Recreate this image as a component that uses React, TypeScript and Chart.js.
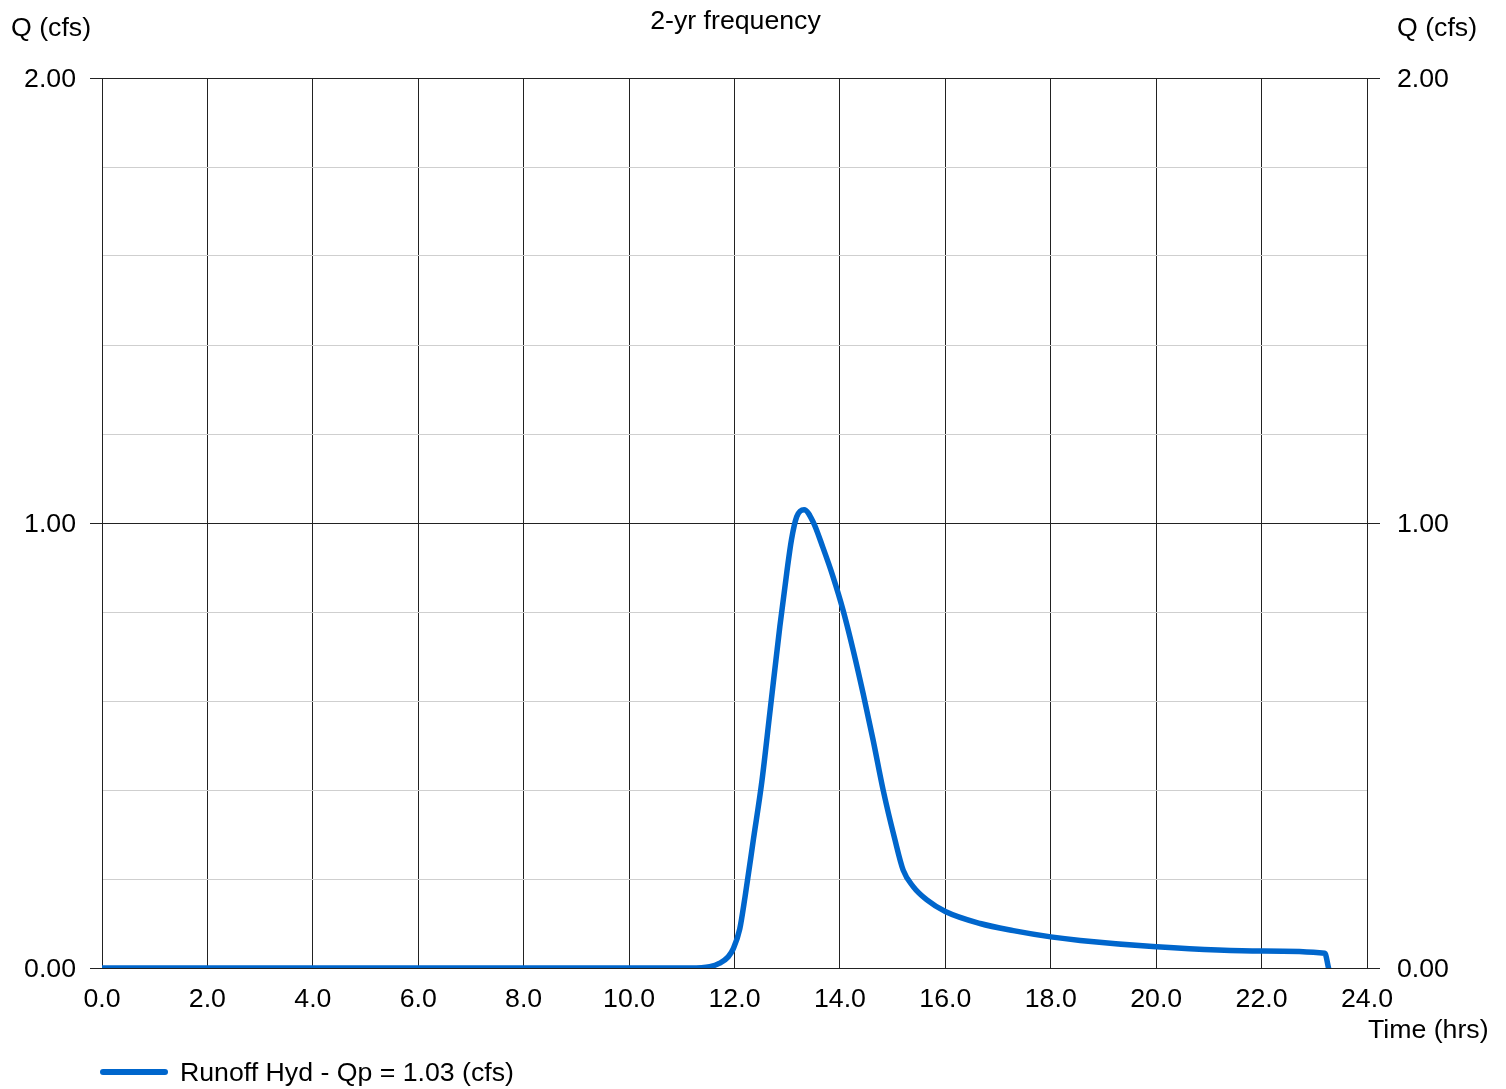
import React, { useEffect, useRef } from "react";
import { Chart, registerables } from "chart.js";

Chart.register(...registerables);

const timeHrs = [
  0, 2, 4, 6, 8, 10, 11.16, 11.53, 11.72, 11.88, 11.98, 12.1, 12.2, 12.36, 12.52, 12.67,
  12.86, 12.99, 13.08, 13.18, 13.32, 13.49, 13.68, 13.87, 14.06, 14.25, 14.44, 14.63, 14.82,
  15.04, 15.2, 15.39, 15.65, 16.0, 16.66, 17.29, 18.0, 18.56, 20.0, 22.0, 23.2, 23.27,
];
const flowCfs = [
  0, 0, 0, 0, 0, 0, 0, 0.003, 0.011, 0.025, 0.044, 0.088, 0.16, 0.29, 0.42, 0.573,
  0.767, 0.887, 0.962, 1.014, 1.03, 1.003, 0.944, 0.879, 0.804, 0.715, 0.617, 0.512, 0.4,
  0.29, 0.22, 0.183, 0.153, 0.127, 0.1, 0.084, 0.07, 0.062, 0.048, 0.038, 0.033, 0,
];
const xTickStep = 2;
const yTickStep = 0.2;
const yMajorLabels = [0, 1, 2];

const chartTitle = "2-yr frequency";
const yAxisTitle = "Q (cfs)";
const xAxisTitle = "Time (hrs)";
const seriesLabel = "Runoff Hyd - Qp = 1.03 (cfs)";

const FONT = "'Liberation Sans', Arial, Helvetica, sans-serif";
const FONT_SIZE = 26.7;
const LINE_COLOR = "#0066cc";
const DARK = "#222222";
const LIGHT = "#cfcfcf";

const isMajor = (v: any) =>
  typeof v === "number" && yMajorLabels.some((m) => Math.abs(m - v) < 1e-9);

export default function App() {
  const ref = useRef<HTMLCanvasElement | null>(null);

  useEffect(() => {
    document.body.style.margin = "0";
    const canvas = ref.current;
    if (!canvas) return;

    const textPlugin = {
      id: "textPlugin",
      afterDraw(chart: any) {
        const c = chart.ctx;
        c.save();
        c.fillStyle = "#000";
        c.font = `${FONT_SIZE}px ${FONT}`;
        c.textBaseline = "middle";
        c.textAlign = "center";
        c.fillText(chartTitle, 735.5, 22);
        c.textAlign = "left";
        c.fillText(yAxisTitle, 11, 29);
        c.fillText(yAxisTitle, 1397, 29);
        c.fillText(xAxisTitle, 1368, 1031);
        // legend
        c.strokeStyle = LINE_COLOR;
        c.lineWidth = 6;
        c.lineCap = "round";
        c.beginPath();
        c.moveTo(103, 1072);
        c.lineTo(165, 1072);
        c.stroke();
        c.fillText(chart.data.datasets[0].label, 180, 1074);
        c.restore();
      },
    };

    const chart = new Chart(canvas, {
      type: "line",
      data: {
        datasets: [
          {
            label: seriesLabel,
            data: timeHrs.map((t, i) => ({ x: t, y: flowCfs[i] })),
            borderColor: LINE_COLOR,
            borderWidth: 5.5,
            borderCapStyle: "round",
            borderJoinStyle: "round",
            pointRadius: 0,
            cubicInterpolationMode: "monotone",
            fill: false,
            yAxisID: "y",
          },
        ],
      },
      options: {
        animation: false,
        responsive: false,
        layout: { padding: { top: 78, left: 0, right: 0, bottom: 0 } },
        font: { family: FONT, size: FONT_SIZE },
        plugins: {
          legend: { display: false },
          title: { display: false },
          tooltip: { enabled: false },
        },
        scales: {
          x: {
            type: "linear",
            min: 0,
            max: 24,
            afterFit: (s: any) => {
              s.height = 121;
            },
            ticks: {
              stepSize: xTickStep,
              maxRotation: 0,
              autoSkip: false,
              padding: 16,
              color: "#000",
              font: { family: FONT, size: FONT_SIZE },
              callback: (v: any) => Number(v).toFixed(1),
            },
            grid: { color: DARK, lineWidth: 1, drawTicks: false },
            border: { color: DARK, width: 1 },
          },
          y: {
            type: "linear",
            position: "left",
            min: 0,
            max: 2,
            afterFit: (s: any) => {
              s.width = 102;
            },
            ticks: {
              stepSize: yTickStep,
              autoSkip: false,
              padding: 14,
              labelOffset: 2,
              color: "#000",
              font: { family: FONT, size: FONT_SIZE },
              callback: (v: any) => (isMajor(v) ? Number(v).toFixed(2) : ""),
            },
            grid: {
              lineWidth: 1,
              tickLength: 12,
              color: (ctx: any) => (isMajor(ctx.tick?.value) ? DARK : LIGHT),
              tickColor: (ctx: any) => (isMajor(ctx.tick?.value) ? DARK : "rgba(0,0,0,0)"),
            },
            border: { color: DARK, width: 1 },
          },
          y2: {
            type: "linear",
            position: "right",
            display: true,
            min: 0,
            max: 2,
            afterFit: (s: any) => {
              s.width = 139;
            },
            ticks: {
              stepSize: yTickStep,
              autoSkip: false,
              padding: 17,
              labelOffset: 2,
              color: "#000",
              font: { family: FONT, size: FONT_SIZE },
              callback: (v: any) => (isMajor(v) ? Number(v).toFixed(2) : ""),
            },
            grid: {
              drawOnChartArea: false,
              lineWidth: 1,
              tickLength: 13,
              tickColor: (ctx: any) => (isMajor(ctx.tick?.value) ? DARK : "rgba(0,0,0,0)"),
            },
            border: { color: DARK, width: 1 },
          },
        },
      } as any,
      plugins: [textPlugin],
    });

    return () => chart.destroy();
  }, []);

  return (
    <canvas
      ref={ref}
      width={1506}
      height={1089}
      style={{ display: "block", width: 1506, height: 1089 }}
    />
  );
}
